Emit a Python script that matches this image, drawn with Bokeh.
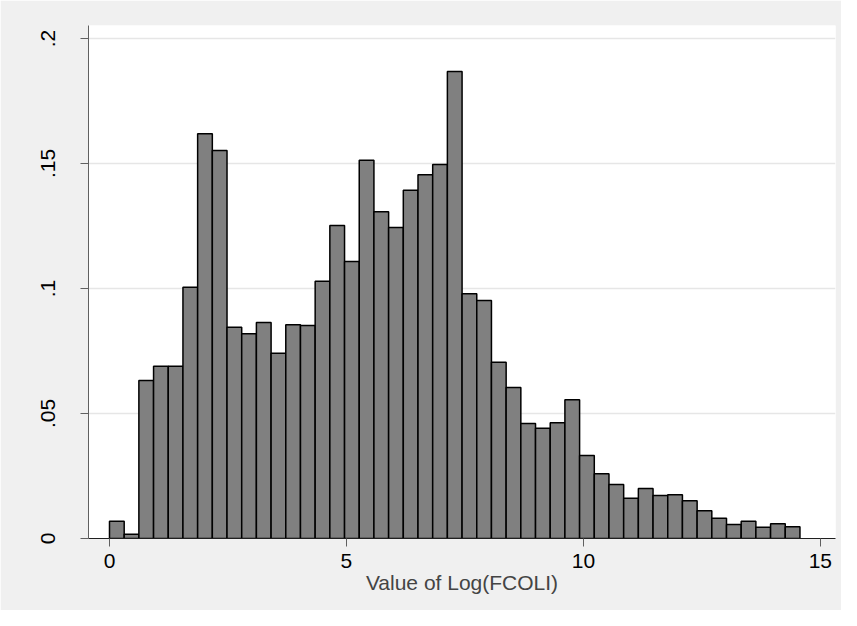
from bokeh.plotting import figure
from bokeh.models import Range1d, FixedTicker, CustomJSTickFormatter, ColumnDataSource
from bokeh.embed import file_html
from bokeh.resources import INLINE

# Histogram densities (47 bins starting at 0)
bin_start = 0.0
bin_width = 0.31
density = [0.0069, 0.0017, 0.0632, 0.0689, 0.0689, 0.1005, 0.1619, 0.1552,
           0.0845, 0.0819, 0.0864, 0.0741, 0.0855, 0.0852, 0.1029, 0.1252,
           0.1108, 0.1513, 0.1307, 0.1244, 0.1393, 0.1455, 0.1496, 0.1868,
           0.0979, 0.0952, 0.0705, 0.0604, 0.0460, 0.0441, 0.0463, 0.0555,
           0.0332, 0.0259, 0.0216, 0.0161, 0.0200, 0.0172, 0.0175, 0.0151,
           0.0111, 0.0081, 0.0056, 0.0069, 0.0045, 0.0059, 0.0047]

x_ticks = [0, 5, 10, 15]
y_ticks = [0, 0.05, 0.1, 0.15, 0.2]
y_tick_labels = ["0", ".05", ".1", ".15", ".2"]
x_title = "Value of Log(FCOLI)"

lefts = [bin_start + i * bin_width for i in range(len(density))]
rights = [bin_start + (i + 1) * bin_width for i in range(len(density))]
src = ColumnDataSource(dict(left=lefts, right=rights, top=density,
                            bottom=[0] * len(density)))

FONT = "Liberation Sans"

p = figure(width=841, height=610, output_backend="svg", toolbar_location=None,
           x_range=Range1d(-0.443, 15.32), y_range=Range1d(0, 0.2052),
           min_border_left=88, min_border_top=25, min_border_right=6,
           min_border_bottom=72)
p.border_fill_color = "#f0f0f0"
p.background_fill_color = "white"
p.outline_line_color = None

p.quad(left="left", right="right", top="top", bottom="bottom", source=src,
       fill_color="#808080", line_color="black", line_width=1.5)

p.xgrid.grid_line_color = None
p.ygrid.grid_line_color = "#e6e6e6"
p.ygrid.grid_line_width = 1.5

for ax in (p.xaxis, p.yaxis):
    ax.minor_tick_line_color = None
    ax.major_tick_in = 0
    ax.major_tick_out = 8
    ax.major_tick_line_color = "#606060"
    ax.major_label_text_font = FONT
    ax.major_label_text_font_size = "21px"
    ax.major_label_text_color = "black"

p.xaxis.ticker = FixedTicker(ticks=x_ticks)
p.xaxis.axis_line_color = "#202020"
p.xaxis.major_label_standoff = 7
p.xaxis.axis_label = x_title
p.xaxis.axis_label_text_font = FONT
p.xaxis.axis_label_text_font_size = "21px"
p.xaxis.axis_label_text_font_style = "normal"
p.xaxis.axis_label_standoff = 0

p.yaxis.ticker = FixedTicker(ticks=y_ticks)
p.yaxis.axis_line_color = "#606060"
p.yaxis.major_label_orientation = "vertical"
p.yaxis.major_label_standoff = 26
p.yaxis.formatter = CustomJSTickFormatter(
    args=dict(tick_values=y_ticks, tick_texts=y_tick_labels),
    code="""
    for (let i = 0; i < tick_values.length; i++) {
        if (Math.abs(tick_values[i] - tick) < 1e-9) { return tick_texts[i]; }
    }
    return "";
    """)

open("out.html", "w").write(file_html(p, INLINE))
